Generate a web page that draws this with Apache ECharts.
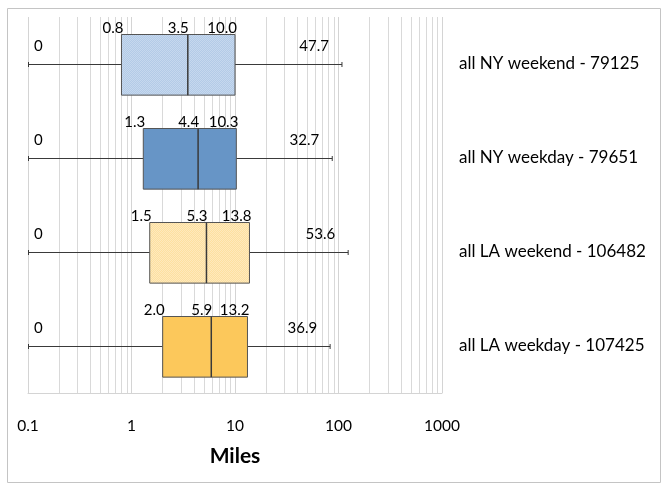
<!DOCTYPE html>
<html>
<head>
<meta charset="utf-8">
<script src="https://cdn.jsdelivr.net/npm/echarts@6/dist/echarts.min.js"></script>
<style>
  html, body { margin: 0; padding: 0; background: #fff; }
  #chart { width: 664px; height: 487px; }
</style>
</head>
<body>
<div id="chart"></div>
<script>
// rows, top to bottom
const groups = ['all NY weekend - 79125', 'all NY weekday - 79651', 'all LA weekend - 106482', 'all LA weekday - 107425'];
const whiskerLow = [0.1, 0.1, 0.1, 0.1];     // 0 drawn at the axis minimum
const lowLabels = ['0', '0', '0', '0'];
const q1 = [0.8, 1.3, 1.5, 2.0];
const median = [3.5, 4.4, 5.3, 5.9];
const q3 = [10.0, 10.3, 13.8, 13.2];
const whiskerHigh = [108, 87, 124, 83];
const highLabels = ['47.7', '32.7', '53.6', '36.9'];

const tickValues = [0.1, 1, 10, 100, 1000];
const minorSteps = [2, 3, 4, 5, 6, 7, 8, 9];

const FONT = 'Lato, "Noto Sans", sans-serif';

// fine dotted texture like the original fills
function makePattern(base, dot) {
  const c = document.createElement('canvas');
  c.width = 2; c.height = 2;
  const ctx = c.getContext('2d');
  ctx.fillStyle = base;
  ctx.fillRect(0, 0, 2, 2);
  ctx.fillStyle = dot;
  ctx.fillRect(0, 0, 1, 1);
  ctx.fillRect(1, 1, 1, 1);
  return { image: c, repeat: 'repeat' };
}

const fills = [
  makePattern('#b3cbe7', '#c6d8ee'),
  '#6795c6',
  makePattern('#fde0a0', '#fee9bd'),
  '#fcc85b'
];

// minor grid lines between the decades
const minorLines = [];
tickValues.slice(0, -1).forEach(d => {
  minorSteps.forEach(s => minorLines.push({ xAxis: +(d * s).toPrecision(3) }));
});

const boxData = groups.map((g, i) => [i, whiskerLow[i], q1[i], median[i], q3[i], whiskerHigh[i]]);

function renderBox(params, api) {
  const i = api.value(0);
  const pLow = api.coord([api.value(1), i]);
  const pQ1 = api.coord([api.value(2), i]);
  const pMed = api.coord([api.value(3), i]);
  const pQ3 = api.coord([api.value(4), i]);
  const pHigh = api.coord([api.value(5), i]);
  const y = Math.round(pLow[1]) + 0.5;
  const h = api.size([0, 1])[1] * 0.645;
  const top = Math.round(y - h / 2) + 0.5;
  const line = { stroke: '#3a3a3a', lineWidth: 1 };
  const txt = (text, x, yy, align) => ({
    type: 'text',
    style: { text: text, x: x, y: yy, align: align, verticalAlign: 'middle',
      font: '15px ' + FONT, fill: '#000' }
  });
  return {
    type: 'group',
    children: [
      { type: 'line', shape: { x1: pLow[0], y1: y, x2: pQ1[0], y2: y }, style: line },
      { type: 'line', shape: { x1: pQ3[0], y1: y, x2: pHigh[0], y2: y }, style: line },
      { type: 'line', shape: { x1: pLow[0] + 0.5, y1: y - 2.5, x2: pLow[0] + 0.5, y2: y + 2.5 }, style: line },
      { type: 'line', shape: { x1: pHigh[0], y1: y - 2.5, x2: pHigh[0], y2: y + 2.5 }, style: line },
      { type: 'rect', shape: { x: pQ1[0], y: top, width: pQ3[0] - pQ1[0], height: h },
        style: { fill: fills[i], stroke: '#555', lineWidth: 1 } },
      { type: 'line', shape: { x1: pMed[0], y1: top, x2: pMed[0], y2: top + h },
        style: { stroke: '#3a3a3a', lineWidth: 1.5 } },
      txt(lowLabels[i], pLow[0] + 6, y - 18, 'left'),
      txt(q1[i].toFixed(1), pQ1[0] + 2, top - 6, 'right'),
      txt(median[i].toFixed(1), pMed[0] + 1, top - 6, 'right'),
      txt(q3[i].toFixed(1), pQ3[0] + 2, top - 6, 'right'),
      txt(highLabels[i], pHigh[0] - 13, y - 18, 'right')
    ]
  };
}

const chart = echarts.init(document.getElementById('chart'));
chart.setOption({
  animation: false,
  graphic: [{
    type: 'rect', left: 5, top: 6,
    shape: { width: 653, height: 474 },
    style: { fill: 'none', stroke: '#c4c4c4', lineWidth: 1 }
  }],
  grid: { left: 28, right: 222, top: 17, bottom: 94 },
  xAxis: {
    type: 'log',
    logBase: 10,
    min: 0.1,
    max: 1000,
    name: 'Miles',
    nameLocation: 'middle',
    nameGap: 53,
    nameTextStyle: { fontFamily: FONT, fontSize: 21, fontWeight: 'bold', color: '#000' },
    axisLine: { show: true, lineStyle: { color: '#d4d4d4' } },
    axisTick: { show: false },
    axisLabel: {
      margin: 25, fontSize: 15.5, fontFamily: FONT, color: '#000',
      formatter: v => String(+v.toPrecision(3))
    },
    splitLine: { show: true, lineStyle: { color: '#d4d4d4' } }
  },
  yAxis: {
    type: 'category',
    data: groups,
    inverse: true,
    position: 'right',
    axisLine: { show: false },
    axisTick: { show: false },
    splitLine: { show: false },
    axisLabel: { margin: 17, fontSize: 17, fontFamily: FONT, color: '#000' }
  },
  series: [
    {
      type: 'line',
      data: [],
      silent: true,
      markLine: {
        silent: true,
        symbol: 'none',
        label: { show: false },
        lineStyle: { color: '#d9d9d9', type: 'solid', width: 1 },
        data: minorLines
      }
    },
    {
      type: 'custom',
      renderItem: renderBox,
      encode: { x: [1, 2, 3, 4, 5], y: 0 },
      data: boxData,
      z: 5
    }
  ]
});
</script>
</body>
</html>
